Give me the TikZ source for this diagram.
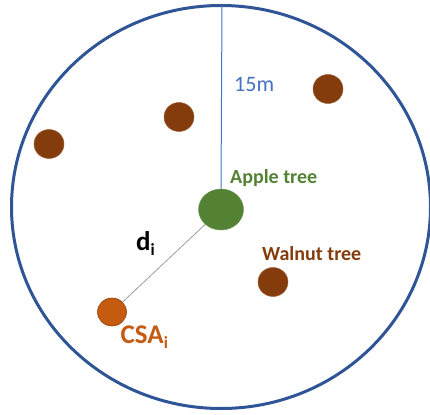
\documentclass[tikz,border=0pt]{standalone}
\usepackage{fontspec}
\setmainfont{Carlito}
\usetikzlibrary{shapes.geometric,positioning}

\definecolor{ringblue}{HTML}{2F5597}
\definecolor{radblue}{HTML}{4472C4}
\definecolor{applegreen}{HTML}{548235}
\definecolor{walnutbrown}{HTML}{843C0C}
\definecolor{csaorange}{HTML}{C55A11}
\newcommand{\lowidx}[1]{\raisebox{-5pt}{\fontsize{17}{20}\selectfont #1}}

\begin{document}
\begin{tikzpicture}[x=1pt, y=-1pt,
  tree/.style={ellipse, inner sep=0pt, minimum width=30pt, minimum height=29pt},
  walnut/.style={tree, fill=walnutbrown, draw=walnutbrown!80!white, line width=0.5pt},
  lab/.style={inner sep=0pt, anchor=base west, font=\bfseries\fontsize{20}{24}\selectfont},
  biglab/.style={lab, font=\bfseries\fontsize{27}{32}\selectfont}]
\useasboundingbox (0,0) rectangle (430,414);
% plot boundary, 15 m round the apple tree
\draw[ringblue, line width=3pt] (221,207) ellipse [x radius=209.5, y radius=201.5];
\coordinate (top) at (222,5.5);
% trees
\node[ellipse, inner sep=0pt, minimum width=45pt, minimum height=41pt, fill=applegreen, draw=applegreen!85!white, line width=0.5pt] (apple) at (221,209.5) {};
\node[walnut] (w1) at (328,89) {};
\node[walnut] (w2) at (179,117) {};
\node[walnut] (w3) at (49,144) {};
\node[walnut] (w4) at (273,282) {};
\node[tree, minimum width=29pt, minimum height=28pt, fill=csaorange, draw=csaorange!75!black, line width=0.6pt] (csa) at (112,312) {};
% radius and distance
\draw[radblue, line width=1pt] (apple.north) -- (top);
\draw[black!38, line width=0.8pt] (apple) -- (csa);
% labels
\node[inner sep=0pt, anchor=base west, radblue, font=\fontsize{22}{26}\selectfont] (radlab) at (234,92) {15m};
\node[lab, applegreen] (applelab) at (230,183) {Apple tree};
\node[lab, walnutbrown] (walnutlab) at (262,260) {Walnut tree};
\node[biglab] (dlab) at (136,250) {d\lowidx{i}};
\node[biglab, csaorange] (csalab) at (120.5,343) {CSA\lowidx{i}};
\end{tikzpicture}
\end{document}
